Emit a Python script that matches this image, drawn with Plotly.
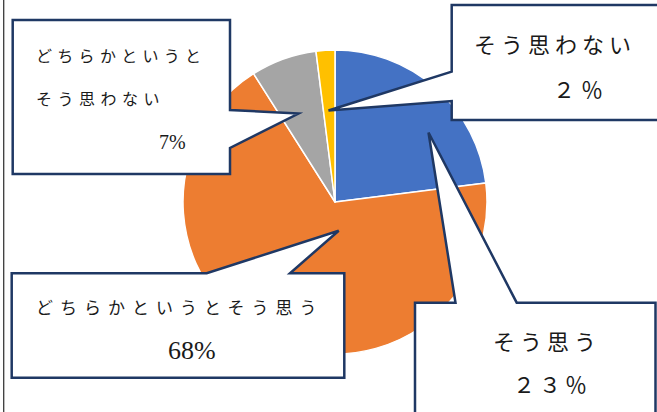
import plotly.graph_objects as go

# Survey answers, in clockwise order from 12 o'clock
categories = ["そう思う", "どちらかというとそう思う", "どちらかというとそう思わない", "そう思わない"]
shares = [23, 68, 7, 2]
colors = ["#4472C4", "#ED7D31", "#A5A5A5", "#FFC000"]

W, H = 657, 412
NAVY = "#1F3864"
JP = "Noto Sans CJK JP"
SERIF = "Liberation Serif"

fig = go.Figure()

# pie centred at (335, 202) px with radius 152 px
cx, cy, r = 335, 202, 152
fig.add_trace(go.Pie(
    labels=categories,
    values=shares,
    sort=False,
    direction="clockwise",
    rotation=0,
    marker=dict(colors=colors, line=dict(color="white", width=1.5)),
    textinfo="none",
    hoverinfo="label+percent",
    showlegend=False,
    domain=dict(x=[(cx - r) / W, (cx + r) / W],
                y=[(H - cy - r) / H, (H - cy + r) / H]),
))

# pixel-space axes used to place the callouts
fig.update_xaxes(range=[0, W], visible=False, fixedrange=True)
fig.update_yaxes(range=[H, 0], visible=False, fixedrange=True)


def poly(pts):
    return "M " + " L ".join(f"{x},{y}" for x, y in pts) + " Z"


callouts = [
    # どちらかというとそう思わない
    [(12.7, 20), (230, 20), (230, 110), (298.5, 113.5), (230, 148), (230, 174), (12.7, 174)],
    # そう思わない
    [(451.7, 5), (665, 5), (665, 120), (451.7, 120), (451.7, 101), (328.5, 110.5), (451.7, 71.7)],
    # どちらかというとそう思う
    [(11.7, 273.3), (206.7, 273.3), (338.7, 230.7), (290, 273.3), (344.3, 273.3),
     (344.3, 377.7), (11.7, 377.7)],
    # そう思う
    [(415, 302.7), (455.5, 302.7), (428.5, 132.5), (516.7, 302.7), (655.5, 302.7),
     (655.5, 425), (415, 425)],
]
shapes = [
    dict(type="path", path=poly(p), xref="x", yref="y", layer="above",
         fillcolor="white", line=dict(color=NAVY, width=2.5))
    for p in callouts
]
# page frame line on the left
shapes.append(dict(type="line", xref="x", yref="y", x0=3.7, x1=3.7, y0=0, y1=H,
                   layer="above", line=dict(color="#3a3a3a", width=1.3)))


def spaced(text, ls):
    return f'<span style="letter-spacing:{ls}px">{text}</span>'


def label(x, y, text, size, family=JP, ls=0):
    return dict(x=x, y=y, xref="x", yref="y", xanchor="left", yanchor="middle",
                text=spaced(text, ls) if ls else text, showarrow=False,
                font=dict(family=family, size=size, color="#1a1a1a"))


annotations = [
    label(34, 55, "どちらかというと", 16, ls=5.3),
    label(34, 98, "そう思わない", 16, ls=5.5),
    label(157, 141.5, f"{shares[2]}%", 20, family=SERIF),

    label(472, 43, "そう思わない", 22, ls=5),
    label(551, 88, "２％", 22, ls=6),

    label(34, 306.5, "どちらかというとそう思う", 17, ls=7),
    label(166, 350, f"{shares[1]}%", 26, family=SERIF),

    label(490.5, 340, "そう思う", 22, ls=5),
    label(511, 382.5, "２３％", 22, ls=4),
]

fig.update_layout(
    width=W, height=H,
    margin=dict(l=0, r=0, t=0, b=0),
    paper_bgcolor="white", plot_bgcolor="white",
    shapes=shapes,
    annotations=annotations,
)

fig.write_html("out.html")
